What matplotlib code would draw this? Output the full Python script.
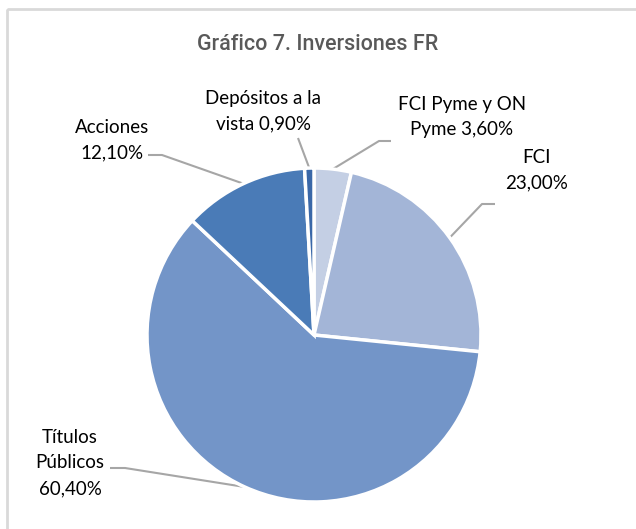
import numpy as np
import matplotlib
matplotlib.use("Agg")
import matplotlib.pyplot as plt
from matplotlib.patches import Rectangle

# ---- data ----
categories = ["FCI Pyme y ON Pyme", "FCI", "Títulos Públicos", "Acciones", "Depósitos a la vista"]
values = [3.6, 23.0, 60.4, 12.1, 0.9]
labels = ["FCI Pyme y ON\nPyme 3,60%", "FCI\n23,00%", "Títulos\nPúblicos\n60,40%",
          "Acciones\n12,10%", "Depósitos a la\nvista 0,90%"]
colors = ["#c4cfe4", "#a3b5d7", "#7395c8", "#4a7bb7", "#3a68a8"]
title = "Gráfico 7. Inversiones FR"

# ---- layout (pixels) ----
W, H = 636, 529
cx, cy, R = 314, 335, 167
label_pos = [(462, 117), (537, 170), (70, 463), (112, 140), (263, 111)]
leader_start = [(391, 141), (495, 204), (110, 468), (148, 155), (298, 138)]
leader_elbow = [(379, 141), (482, 204), (125, 468), (162, 155), None]

fig = plt.figure(figsize=(W / 100, H / 100), dpi=100)

# overlay axes in pixel coordinates
ov = fig.add_axes([0, 0, 1, 1])
ov.set_xlim(0, W)
ov.set_ylim(H, 0)
ov.axis("off")
ov.add_patch(Rectangle((6.5, 8.5), W + 10, H + 10, fill=False, edgecolor="#d9d9d9", linewidth=2))

# pie axes
pa = fig.add_axes([(cx - R) / W, (H - cy - R) / H, 2 * R / W, 2 * R / H])
wedges, _ = pa.pie(values, colors=colors, startangle=90, counterclock=False, radius=1,
                   wedgeprops=dict(edgecolor="white", linewidth=2.5))
pa.set_xlim(-1, 1)
pa.set_ylim(-1, 1)
pa.axis("off")

ov.text(318, 45, title, ha="center", va="center", fontsize=15.5, color="#595959",
        family="Roboto", fontweight="medium")

for w, lab, lp, ls, le in zip(wedges, labels, label_pos, leader_start, leader_elbow):
    a = np.deg2rad((w.theta1 + w.theta2) / 2)
    ex, ey = cx + R * np.cos(a), cy - R * np.sin(a)
    pts = [ls] + ([le] if le else []) + [(ex, ey)]
    xs, ys = zip(*pts)
    ov.plot(xs, ys, color="#a6a6a6", linewidth=1.5, solid_capstyle="butt", zorder=1)
    ov.text(lp[0], lp[1], lab, ha="center", va="center", fontsize=13.5, color="#000000",
            family="Lato", linespacing=1.6)

fig.savefig("out.png", dpi=100)
